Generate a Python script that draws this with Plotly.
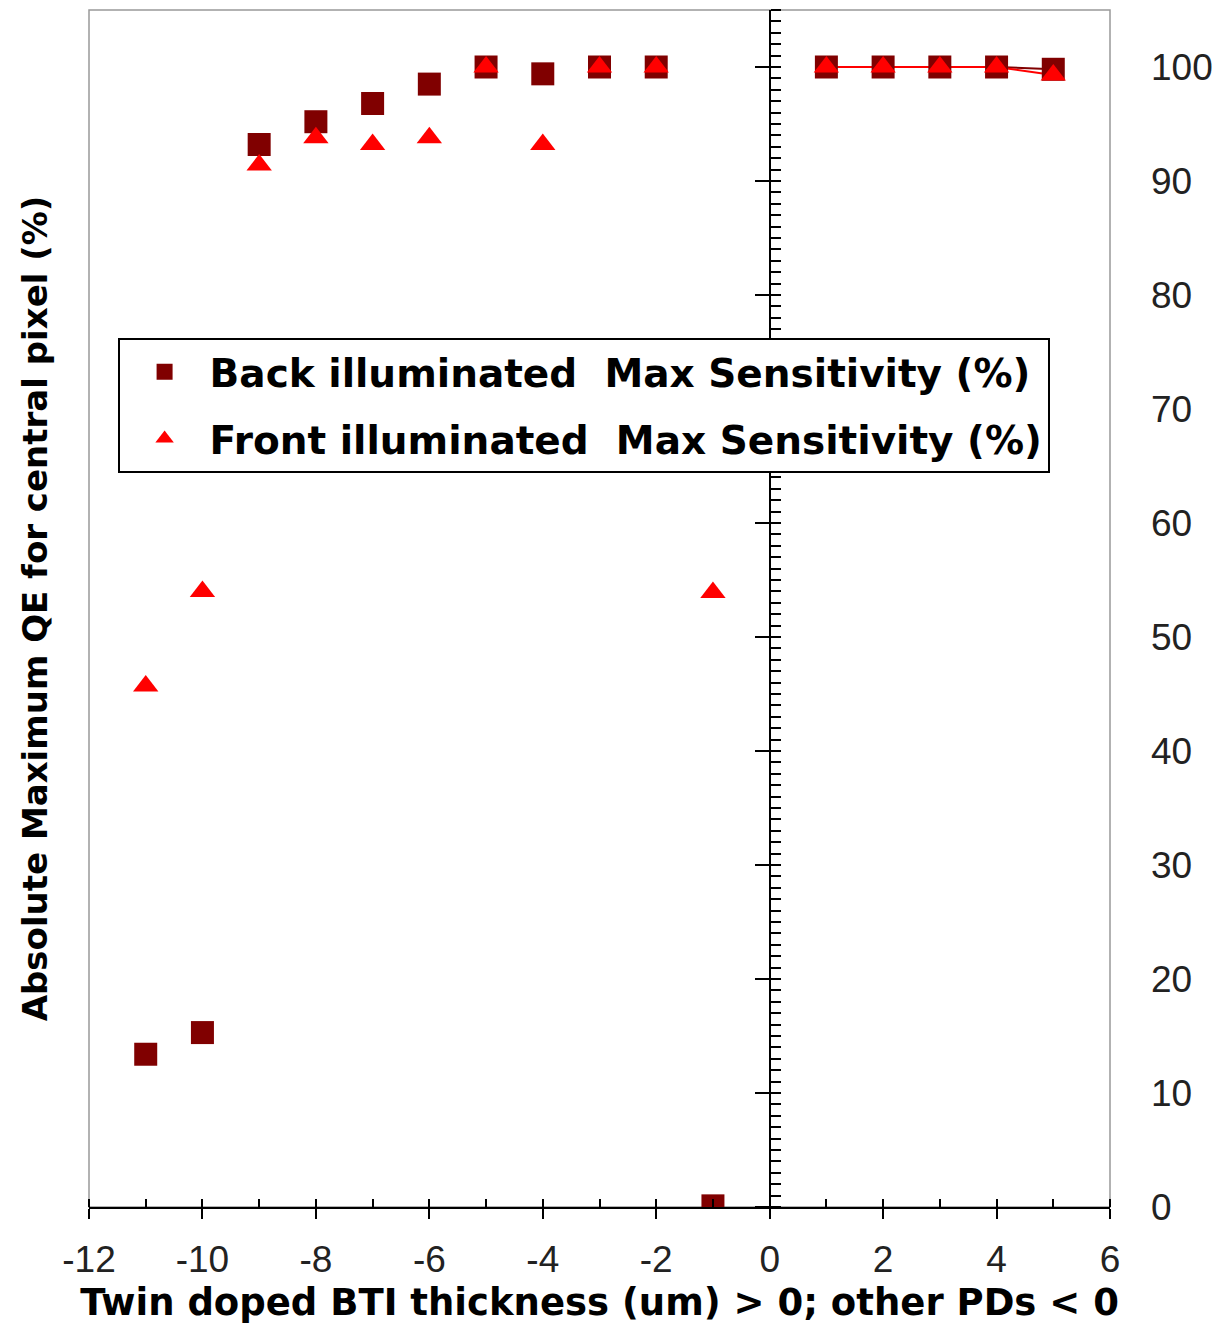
import plotly.graph_objects as go

# ---- data ----
thickness = [-11, -10, -9, -8, -7, -6, -5, -4, -3, -2, -1, 1, 2, 3, 4, 5]
back_qe = [13.4, 15.3, 93.2, 95.2, 96.8, 98.5, 100, 99.4, 100, 100, 0.1, 100, 100, 100, 100, 99.8]
front_x = [-11, -10, -9, -8, -7, -6, -5, -4, -3, -2, -1, 1, 2, 3, 4, 5]
front_qe = [45.7, 54.0, 91.4, 93.8, 93.2, 93.8, 100, 93.2, 100, 100, 53.9, 100, 100, 100, 100, 99.3]

x_tickvals = [-12, -10, -8, -6, -4, -2, 0, 2, 4, 6]
x_ticktext = ["-12", "-10", "-8", "-6", "-4", "-2", "0", "2", "4", "6"]
y_tickvals = [0, 10, 20, 30, 40, 50, 60, 70, 80, 90, 100]

back_name = "Back illuminated\u00a0 Max Sensitivity (%)"
front_name = "Front illuminated\u00a0 Max Sensitivity (%)"
x_title = "Twin doped BTI thickness (um) > 0; other PDs < 0"
y_title = "Absolute Maximum QE for central pixel (%)"

BACK_C = "#800000"
FRONT_C = "#FF0000"
FONT = "Liberation Sans, Arial, sans-serif"
BOLD_FONT = "DejaVu Sans, Verdana, sans-serif"

bx_pos = [x for x in thickness if x > 0]
by_pos = [y for x, y in zip(thickness, back_qe) if x > 0]
fx_pos = [x for x in front_x if x > 0]
fy_pos = [y for x, y in zip(front_x, front_qe) if x > 0]

fig = go.Figure()
# connecting lines for positive thickness points
fig.add_trace(go.Scatter(x=bx_pos, y=by_pos, mode="lines", line=dict(color=BACK_C, width=2),
                         showlegend=False, hoverinfo="skip"))
fig.add_trace(go.Scatter(x=fx_pos, y=fy_pos, mode="lines", line=dict(color=FRONT_C, width=2),
                         showlegend=False, hoverinfo="skip"))
fig.add_trace(go.Scatter(x=thickness, y=back_qe, mode="markers", name=back_name,
                         legendgroup="b",
                         marker=dict(symbol="square", size=23, color=BACK_C)))
fig.add_trace(go.Scatter(x=front_x, y=front_qe, mode="markers", name=front_name,
                         legendgroup="f",
                         marker=dict(symbol="triangle-up", size=22, color=FRONT_C)))

YPOS = 12 / 18  # paper position of x=0

fig.update_layout(
    width=1229, height=1328,
    margin=dict(l=89, r=119, t=10, b=121),
    paper_bgcolor="white", plot_bgcolor="white",
    font=dict(family=FONT, color="black"),
    showlegend=True,
    legend=dict(
        x=0.028, y=0.726, xanchor="left", yanchor="top",
        bgcolor="white", bordercolor="black", borderwidth=2,
        font=dict(size=39, family=BOLD_FONT, weight="bold", color="black"),
        tracegroupgap=13, itemsizing="trace", itemwidth=80,
    ),
    xaxis=dict(
        range=[-12, 6], tickmode="array", tickvals=x_tickvals, ticktext=x_ticktext,
        showgrid=False, zeroline=False,
        showline=True, linecolor="black", linewidth=2,
        ticks="outside", ticklen=10, tickwidth=2, tickcolor="black",
        minor=dict(ticks="inside", dtick=1, tick0=0, ticklen=8, tickwidth=2, tickcolor="black"),
        tickfont=dict(size=37, color="#222", family=FONT),
        ticklabelstandoff=9,
        title=dict(text=x_title, font=dict(size=37, family=BOLD_FONT, weight="bold"), standoff=10),
    ),
    xaxis2=dict(
        overlaying="x", matches="x", range=[-12, 6], dtick=2, tick0=0,
        showgrid=False, zeroline=False, showline=False, showticklabels=False,
        ticks="inside", ticklen=8, tickwidth=2, tickcolor="black", anchor="y",
    ),
    yaxis=dict(
        range=[0, 105], dtick=10, tick0=0,
        anchor="free", position=YPOS, side="left",
        showgrid=False, zeroline=False, showticklabels=False,
        showline=True, linecolor="black", linewidth=2,
        ticks="outside", ticklen=14, tickwidth=2, tickcolor="black",
        minor=dict(ticks="inside", dtick=1, ticklen=10, tickwidth=2, tickcolor="black"),
    ),
    yaxis3=dict(
        overlaying="y", matches="y", range=[0, 105], dtick=10, tick0=0,
        anchor="free", position=YPOS, side="left",
        showgrid=False, zeroline=False, showticklabels=False, showline=False,
        ticks="inside", ticklen=10, tickwidth=2, tickcolor="black",
    ),
    yaxis2=dict(
        overlaying="y", matches="y", range=[0, 105],
        tickmode="array", tickvals=y_tickvals,
        anchor="x", side="right",
        showgrid=False, zeroline=False, showline=False,
        ticks="", tickfont=dict(size=37, color="#222", family=FONT),
        ticklabelstandoff=40,
    ),
    yaxis4=dict(
        overlaying="y", matches="y", range=[0, 105],
        anchor="x", side="left",
        showgrid=False, zeroline=False, showline=False, showticklabels=False, ticks="",
        title=dict(text=y_title, font=dict(size=34, family=BOLD_FONT, weight="bold"), standoff=30),
    ),
    shapes=[dict(type="rect", xref="paper", yref="paper", x0=0, x1=1, y0=0, y1=1,
                 line=dict(color="#999", width=1.5), layer="below")],
)

# dummy traces to activate the auxiliary axes
fig.add_trace(go.Scatter(x=[None], y=[None], xaxis="x2", yaxis="y3", showlegend=False, hoverinfo="skip"))
fig.add_trace(go.Scatter(x=[None], y=[None], xaxis="x", yaxis="y2", showlegend=False, hoverinfo="skip"))
fig.add_trace(go.Scatter(x=[None], y=[None], xaxis="x", yaxis="y4", showlegend=False, hoverinfo="skip"))

fig.write_html("out.html")
